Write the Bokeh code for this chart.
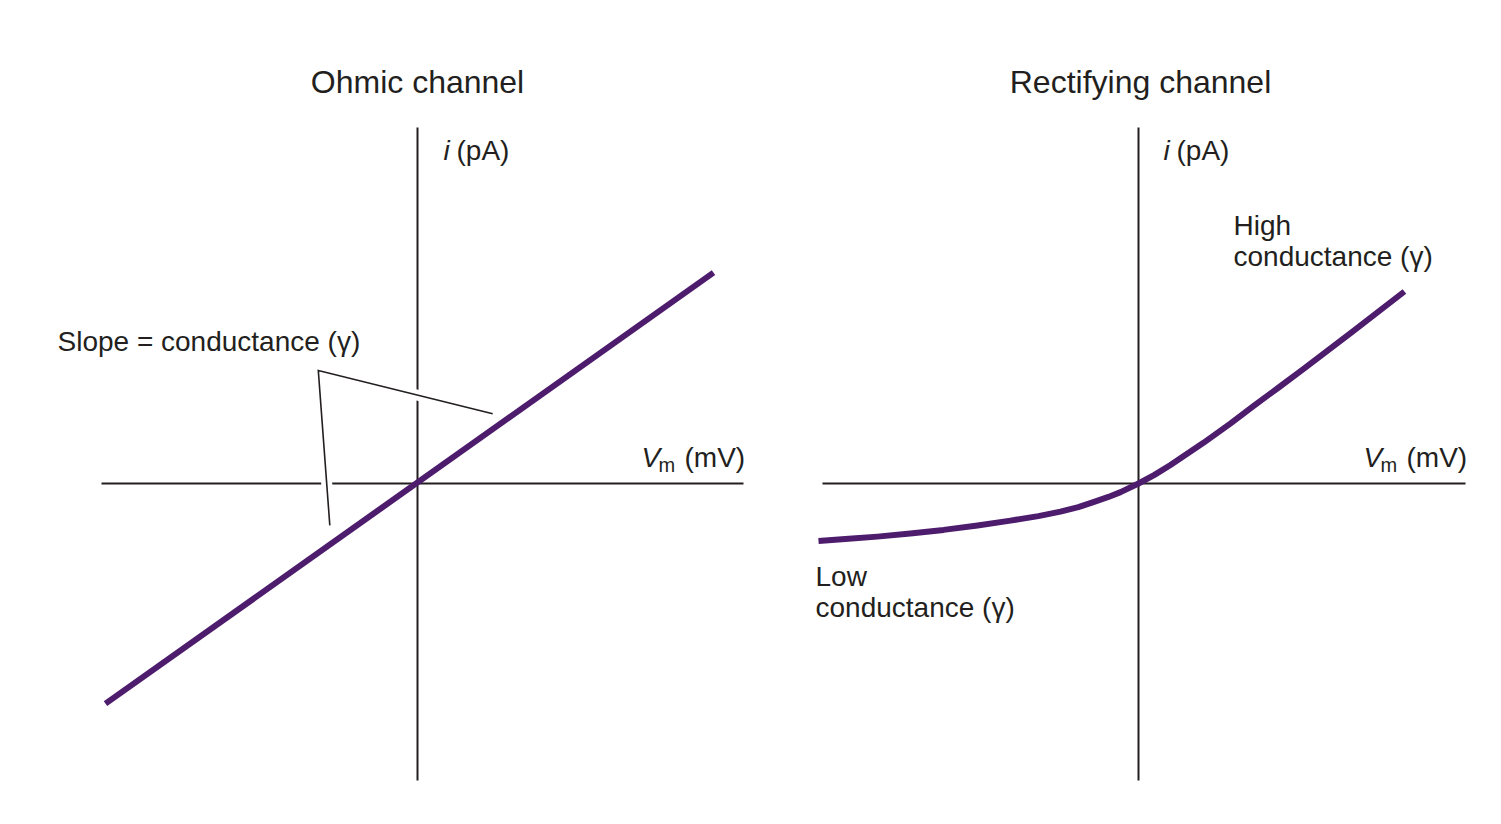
from bokeh.plotting import figure
from bokeh.layouts import row
from bokeh.models import Range1d
from bokeh.core.properties import value
from bokeh.embed import file_html
from bokeh.resources import INLINE

# ---- data (membrane voltage in mV, single-channel current in pA) ----
ohmic_v = [-97.5, 92.5]
ohmic_i = [-68.8, 65.9]

rect_v = [-100.0, -90.6, -81.6, -71.3, -60.9, -50.3, -40.0, -31.3, -24.4, -18.8,
          -14.1, -9.4, -5.6, 0.0, 5.0, 10.0, 20.3, 28.8, 35.9, 43.8, 51.6, 67.2, 83.1]
rect_i = [-18.0, -17.3, -16.6, -15.6, -14.5, -13.1, -11.6, -10.2, -8.8, -7.4,
          -5.8, -4.2, -2.7, 0.0, 2.7, 5.8, 12.7, 18.8, 24.2, 30.0, 35.8, 47.7, 60.0]

# slope annotation bracket (mV, pA)
slope_v = [23.5, -31.0, -27.4]
slope_i = [21.8, 35.3, -13.1]

titles = ["Ohmic channel", "Rectifying channel"]

# ---- style / layout ----
S = 3.2            # px per unit
H = 824
OY = 483           # origin row (px from top)
TS = 10            # text baseline correction (px)
FONT = "Liberation Sans"
TXT = "#231f20"
AXC = "#231f20"
PURPLE = "#4e1c6c"
LAB = 28
TIT = 32


def make_fig(width, origin_x):
    p = figure(width=width, height=H,
               x_range=Range1d(-origin_x / S, (width - origin_x) / S),
               y_range=Range1d(-(H - OY) / S, OY / S),
               x_axis_type=None, y_axis_type=None,
               output_backend="svg", toolbar_location=None, min_border=0)
    p.grid.visible = False
    p.outline_line_color = None
    p.background_fill_color = "white"
    p.border_fill_color = "white"
    return p


def txt(p, xpx, ypx, t, size, italic=False, align="left"):
    # xpx: px offset from origin column; ypx: baseline row (px from top)
    p.text(x=[xpx / S], y=[(OY - ypx + TS) / S], text=[t], text_font=value(FONT),
           text_font_size=f"{size}px",
           text_font_style="italic" if italic else "normal",
           text_align=align, text_baseline="alphabetic", text_color=TXT)


def axes(p, xl, xr, yt, yb, lab_ix, lab_vx):
    p.segment(x0=[xl / S], y0=[0], x1=[xr / S], y1=[0], line_color=AXC, line_width=2)
    p.segment(x0=[0], y0=[yt / S], x1=[0], y1=[yb / S], line_color=AXC, line_width=2)
    # i (pA)
    txt(p, lab_ix, 160, "i", LAB, italic=True)
    txt(p, lab_ix + 13, 160, "(pA)", LAB)
    # Vm (mV)
    txt(p, lab_vx, 467, "V", LAB, italic=True)
    txt(p, lab_vx + 17, 474, "m", 20)
    txt(p, lab_vx + 43, 467, "(mV)", LAB)


# ---------------- left: ohmic ----------------
OXL = 417
pl = make_fig(750, OXL)
axes(pl, 101 - OXL, 743 - OXL, OY - 127, OY - 780, 443 - OXL, 641 - OXL)
txt(pl, 0, 91, titles[0], TIT, align="center")
# bracket with white halo
pl.line(slope_v, slope_i, line_color="white", line_width=11, line_join="miter")
pl.line(slope_v, slope_i, line_color=AXC, line_width=1.6, line_join="miter")
txt(pl, 57 - OXL, 351, "Slope = conductance (\u03b3)", LAB)
pl.line(ohmic_v, ohmic_i, line_color=PURPLE, line_width=6)

# ---------------- right: rectifying ----------------
OXR = 1138
pr = make_fig(751, OXR - 750)
axes(pr, 822 - OXR, 1465 - OXR, OY - 127, OY - 780, 1163 - OXR, 1363 - OXR)
txt(pr, 2, 91, titles[1], TIT, align="center")
pr.line(rect_v, rect_i, line_color=PURPLE, line_width=6, line_join="round")
txt(pr, 1233 - OXR, 235, "High", LAB)
txt(pr, 1233 - OXR, 266, "conductance (\u03b3)", LAB)
txt(pr, 815 - OXR, 586, "Low", LAB)
txt(pr, 815 - OXR, 617, "conductance (\u03b3)", LAB)

layout = row(pl, pr, spacing=0)
open("out.html", "w").write(file_html(layout, INLINE))
